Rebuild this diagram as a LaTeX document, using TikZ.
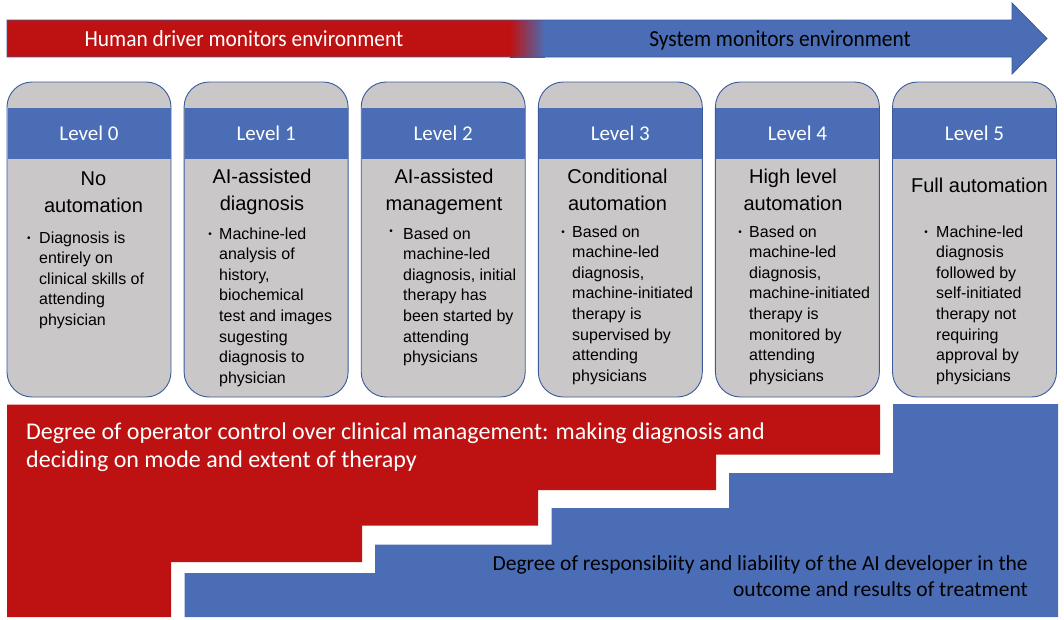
\documentclass[tikz,border=0pt]{standalone}
\usepackage{fontspec}
\setmainfont{Liberation Sans}
\newfontfamily\calib{Carlito}
\newfontfamily\calibn[FakeStretch=0.93]{Carlito}
\usetikzlibrary{shapes.misc}
\definecolor{myred}{HTML}{BE1212}
\definecolor{myblue}{HTML}{4A6DB5}
\definecolor{mygray}{HTML}{C9C7C7}
\definecolor{myedge}{HTML}{3A5A9C}
\tikzset{
  lvlbox/.style={draw=myedge, line width=0.9pt, fill=mygray, rounded corners=25pt,
    minimum width=164pt, minimum height=315pt, inner sep=0pt},
  band/.style={fill=myblue, minimum width=163pt, minimum height=51pt, inner sep=0pt,
    text=white, font=\calib\fontsize{21}{25}\selectfont},
  ttl/.style={anchor=base, inner sep=0pt, font=\fontsize{20}{27}\selectfont},
  bul/.style={anchor=base, inner sep=0pt, font=\fontsize{10}{12}\selectfont},
  btxt/.style={anchor=base west, inner sep=0pt, font=\fontsize{16}{20.6}\selectfont},
}
\begin{document}
\begin{tikzpicture}[x=1pt,y=-1pt]
\useasboundingbox (0,0) rectangle (1064,619);
% ---------- top arrow ----------
\fill[myred] (7,20) rectangle (512,57);
\shade[left color=myred, right color=myblue] (510,20) rectangle (545,57);
\fill[myblue] (543,20) -- (1012,20) -- (1012,3) -- (1047,38.5) -- (1012,74) -- (1012,57) -- (543,57) -- cycle;
\draw[myedge, line width=0.8pt] (7,20) -- (1012,20) -- (1012,3) -- (1047,38.5) -- (1012,74) -- (1012,57) -- (7,57) -- cycle;
\node[text=white, inner sep=0pt, anchor=base, font=\calibn\fontsize{23}{27}\selectfont] (human) at (244,46.5) {Human driver monitors environment};
\node[text=black, inner sep=0pt, anchor=base, font=\calibn\fontsize{23}{27}\selectfont] (system) at (780,46.5) {System monitors environment};
% ---------- level boxes ----------
\foreach \i/\cx in {0/89,1/266.1,2/443.2,3/620.3,4/797.4,5/974.5}{
  \node[lvlbox] (box\i) at (\cx,239.5) {};
  \node[band] (band\i) at (\cx,133.5) {Level \i};
}
% titles
\node[ttl] (t0) at (93.5,185) {\begin{tabular}[t]{@{}c@{}}No\\automation\end{tabular}};
\node[ttl] (t1) at (262,183) {\begin{tabular}[t]{@{}c@{}}AI-assisted\\diagnosis\end{tabular}};
\node[ttl] (t2) at (444,183) {\begin{tabular}[t]{@{}c@{}}AI-assisted\\management\end{tabular}};
\node[ttl] (t3) at (617.5,183) {\begin{tabular}[t]{@{}c@{}}Conditional\\automation\end{tabular}};
\node[ttl] (t4) at (793,183) {\begin{tabular}[t]{@{}c@{}}High level\\automation\end{tabular}};
\node[ttl] (t5) at (979.5,192.5) {Full automation};
% bullets
\node[bul] (b0) at (29,241) {•};
\node[btxt] (x0) at (39,243) {\begin{tabular}[t]{@{}l@{}}Diagnosis is\\entirely on\\clinical skills of\\attending\\physician\end{tabular}};
\node[bul] (b1) at (210,237) {•};
\node[btxt] (x1) at (219,239) {\begin{tabular}[t]{@{}l@{}}Machine-led\\analysis of\\history,\\biochemical\\test and images\\sugesting\\diagnosis to\\physician\end{tabular}};
\node[bul] (b2) at (391,234) {•};
\node[btxt] (x2) at (403,239) {\begin{tabular}[t]{@{}l@{}}Based on\\machine-led\\diagnosis, initial\\therapy has\\been started by\\attending\\physicians\end{tabular}};
\node[bul] (b3) at (563,235) {•};
\node[btxt] (x3) at (572,237) {\begin{tabular}[t]{@{}l@{}}Based on\\machine-led\\diagnosis,\\machine-initiated\\therapy is\\supervised by\\attending\\physicians\end{tabular}};
\node[bul] (b4) at (740,235) {•};
\node[btxt] (x4) at (749,237) {\begin{tabular}[t]{@{}l@{}}Based on\\machine-led\\diagnosis,\\machine-initiated\\therapy is\\monitored by\\attending\\physicians\end{tabular}};
\node[bul] (b5) at (926,235) {•};
\node[btxt] (x5) at (936,237) {\begin{tabular}[t]{@{}l@{}}Machine-led\\diagnosis\\followed by\\self-initiated\\therapy not\\requiring\\approval by\\physicians\end{tabular}};
% ---------- bottom staircases ----------
\fill[myred] (7,404.5) -- (880,404.5) -- (880,454.5) -- (716,454.5) -- (716,490) -- (538,490) -- (538,525.5) -- (362,525.5) -- (362,562) -- (171,562) -- (171,617) -- (7,617) -- cycle;
\fill[myblue] (184.5,617) -- (184.5,573) -- (375,573) -- (375,544.5) -- (551.5,544.5) -- (551.5,508) -- (729,508) -- (729,473) -- (893,473) -- (893,404) -- (1058,404) -- (1058,617) -- cycle;
\node[text=white, inner sep=0pt, anchor=base west, font=\calib\fontsize{24}{28.5}\selectfont] (ctrl) at (26,439) {\begin{tabular}[t]{@{}l@{}}Degree of operator control over clinical management: making diagnosis and\\deciding on mode and extent of therapy\end{tabular}};
\node[text=black, inner sep=0pt, anchor=base east, font=\calib\fontsize{21.5}{26}\selectfont] (resp) at (1028,570) {\begin{tabular}[t]{@{}r@{}}Degree of responsibiity and liability of the AI developer in the\\outcome and results of treatment\end{tabular}};
\end{tikzpicture}
\end{document}
